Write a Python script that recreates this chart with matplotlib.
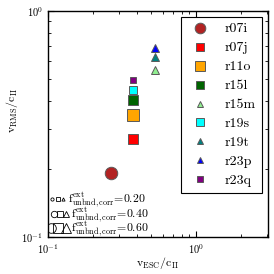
import matplotlib
matplotlib.use('Agg')
from matplotlib import pyplot as plt
from matplotlib.ticker import NullFormatter

plt.rcParams['font.family'] = 'serif'
plt.rcParams['font.serif'] = ['cmr10']
plt.rcParams['mathtext.fontset'] = 'cm'
plt.rcParams['axes.formatter.use_mathtext'] = True

runs   = ['r07i', 'r07j', 'r11o', 'r15l', 'r15m', 'r19s', 'r19t', 'r23p', 'r23q']
v_esc  = [0.267, 0.375, 0.375, 0.375, 0.528, 0.375, 0.528, 0.528, 0.375]
v_rms  = [0.192, 0.272, 0.347, 0.404, 0.548, 0.447, 0.625, 0.685, 0.493]
f_ext  = [0.78, 0.60, 0.72, 0.66, 0.48, 0.53, 0.48, 0.48, 0.42]
marks  = ['o', 's', 's', 's', '^', 's', '^', '^', 's']
cols   = ['firebrick', 'red', 'orange', 'darkgreen', 'lightgreen', 'cyan', 'teal', 'blue', 'purple']
key_f  = [0.20, 0.40, 0.60]

px = 72.0/100.0
K = 16.0
fig = plt.figure(figsize=(2.74, 2.74), dpi=100)
ax = fig.add_axes([0.175, 0.135, 0.803, 0.825])

for n, x, y, f, m, c in zip(runs, v_esc, v_rms, f_ext, marks, cols):
    ax.plot(x, y, m, color=c, mec='0.35', mew=0.7, ms=K*f*px, label=n, ls='none')

ax.set_xscale('log')
ax.set_yscale('log')
ax.set_xlim(0.1, 3.06)
ax.set_ylim(0.1, 1.0)
ax.xaxis.set_minor_formatter(NullFormatter())
ax.yaxis.set_minor_formatter(NullFormatter())
ax.tick_params(which='both', direction='in', top=True, right=True, labelsize=7.5)
ax.tick_params(which='major', length=4)
ax.tick_params(which='minor', length=2)
for s in ax.spines.values():
    s.set_linewidth(1.0)
ax.set_xlabel(r'$\mathrm{v_{ESC}/c_{II}}$', fontsize=8.5)
ax.set_ylabel(r'$\mathrm{v_{RMS}/c_{II}}$', fontsize=8.5)
ax.xaxis.set_label_coords(0.5, -0.08)
ax.yaxis.set_label_coords(-0.125, 0.56)

leg = ax.legend(loc='upper right', fontsize=10, markerscale=0.85, fancybox=False,
                edgecolor='black', framealpha=1, borderaxespad=0.45, labelspacing=0.45,
                handletextpad=0.8, borderpad=0.4)
leg.get_frame().set_linewidth(0.8)

# marker size key (f = 0.20 / 0.40 / 0.60)
key_y  = [0.168, 0.102, 0.040]
key_mx = [[0.018, 0.045, 0.068], [0.027, 0.055, 0.082], [0.014, 0.045, 0.082]]
key_tx = [0.091, 0.105, 0.105]
for f, yk, mx, tx in zip(key_f, key_y, key_mx, key_tx):
    for m, xk in zip(['o', 's', '^'], mx):
        ax.plot(xk, yk, m, mfc='none', mec='black', mew=0.6, ms=K*f*px,
                transform=ax.transAxes)
    ax.text(tx, yk - 0.014, r'$\mathrm{f^{ext}_{unbnd,corr}}$=%.2f' % f,
            transform=ax.transAxes, fontsize=8.5, va='baseline', ha='left')

fig.savefig('out.png', dpi=100)
